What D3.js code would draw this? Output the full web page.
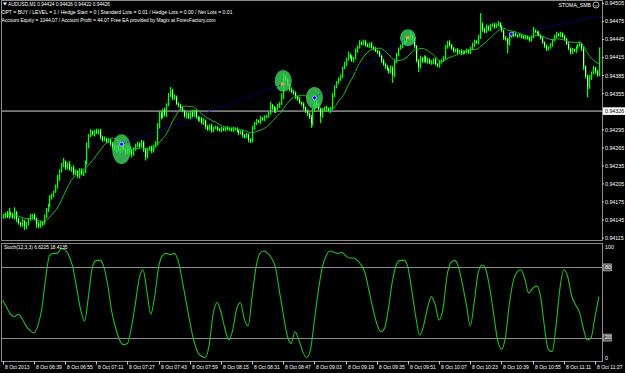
<!DOCTYPE html>
<html>
<head>
<meta charset="utf-8">
<script src="https://cdn.jsdelivr.net/npm/d3@7"></script>
<style>
html, body { margin: 0; padding: 0; background: #000; }
svg text { font-family: "Liberation Sans", Arial, sans-serif; }
</style>
</head>
<body>
<svg id="chart" width="625" height="373"></svg>
<script>
// AUDUSD M1, closes in points above 0.94000 (1 point = 0.00001), one per minute from 06:23
var closesPts = [
  152,156,150,157,154,149,158,146,140,137, 143,134,139,146,150,153,147,138,135,141,
  140,150,162,170,181,186,192,200,214,226, 236,242,232,238,229,232,222,226,218,228,
  222,225,240,268,285,292,288,292,290,294, 283,278,280,276,278,272,266,262,268,260,
  264,270,262,258,265,259,255,262,270,272, 268,274,262,250,262,266,260,268,272,300,
  322,316,328,320,336,352,360,348,350,338, 336,330,326,318,322,315,324,318,326,316,
  312,314,306,310,300,296,302,294,298,299, 296,294,297,295,298,296,297,294,297,296,
  293,290,292,286,283,287,278,276,298,306, 310,308,314,312,316,318,322,336,332,326,
  330,334,338,350,382,378,370,362,358,356, 350,346,340,338,332,326,322,316,306,328,
  342,336,330,318,328,332,330,326,330,352, 366,374,378,384,398,404,412,420,416,410,
  414,426,432,440,438,442,436,434,438,432, 430,426,424,418,410,404,400,396,392,398,
  386,408,420,430,434,438,442,446,448,452, 446,434,410,400,414,410,416,408,412,406,
  408,412,404,402,408,410,414,432,440,436, 430,426,428,424,426,422,425,424,427,424,
  430,436,442,440,448,470,462,458,466,462, 468,470,466,470,472,466,460,448,446,438,
  450,452,455,452,451,452,450,448,450,447, 444,450,460,458,456,452,448,440,434,430,
  432,436,444,450,454,452,455,450,446,438, 430,424,428,426,432,436,438,430,400,384,
  366,382,390,398,392,386,420
];
var firstOpenPts = 150;
// upper and lower shadows beyond the body, in points
var wickUp = [
  3,2,4,8,2,3,8,2,3,2, 4,2,3,2,5,2,3,2,4,3, 2,4,3,2,5,3,2,4,6,3, 4,6,2,3,5,2,4,3,2,3,
  3,2,4,6,3,4,2,3,5,2, 3,2,4,2,3,2,3,4,2,3, 2,3,4,2,3,2,4,3,2,3, 2,4,3,2,3,2,3,2,4,6,
  4,3,2,4,3,4,6,3,4,2, 3,2,4,2,3,2,3,4,2,3, 2,3,2,4,2,3,2,3,2,3, 2,2,3,2,2,3,2,2,3,2,
  3,2,2,3,2,3,2,3,4,2, 3,2,4,2,3,2,3,6,2,3, 2,4,3,6,7,4,3,2,4,3, 3,2,4,2,3,2,3,2,4,3,
  6,2,3,2,3,2,3,2,3,4, 3,2,4,3,2,4,3,5,2,3, 2,4,3,4,2,3,2,3,2,3, 2,3,2,3,2,3,2,3,2,4,
  3,4,3,2,3,2,3,2,4,5, 2,3,2,3,4,2,3,2,3,2, 3,2,3,2,3,2,3,4,3,4, 2,3,2,3,2,3,2,2,3,2,
  3,4,3,2,5,19,4,3,4,3, 3,2,3,2,4,2,3,2,3,2, 3,2,3,2,2,3,2,2,3,2, 3,2,6,3,2,3,2,3,2,3,
  2,3,2,3,4,2,3,2,3,2, 3,2,3,2,3,2,4,2,3,2, 3,4,2,3,2,3,12
];
var wickDn = [
  3,4,2,3,4,2,3,5,3,4, 3,6,4,3,2,4,3,6,4,3, 5,3,2,4,3,2,3,2,3,4, 2,3,4,3,2,4,3,2,3,4,
  3,4,2,3,4,2,3,4,2,3, 4,3,2,4,3,4,3,2,4,3, 4,3,2,5,3,4,6,3,2,4, 3,2,4,6,3,2,4,3,2,3,
  3,4,2,3,4,2,3,4,3,2, 4,3,2,3,4,2,3,4,2,3, 4,3,2,3,4,3,2,4,3,2, 3,2,3,2,3,2,3,2,3,2,
  3,4,3,4,3,2,4,3,2,3, 3,2,3,2,3,2,3,2,4,3, 3,2,3,2,4,3,2,3,2,3, 4,3,2,3,4,3,4,3,8,4,
  3,4,3,12,3,2,3,2,3,2, 3,2,3,2,3,2,3,2,3,2, 3,2,3,2,3,2,3,2,3,2, 3,2,3,2,4,3,4,3,4,3,
  13,3,2,3,2,3,2,3,2,3, 3,4,3,9,3,4,3,2,3,2, 3,4,2,3,4,3,2,3,2,3, 2,3,2,3,2,3,2,3,2,3,
  3,2,3,2,3,2,4,3,2,3, 3,2,3,2,3,2,3,4,3,16, 3,2,3,2,3,2,3,2,3,2, 3,2,3,2,3,2,3,2,3,4,
  3,2,3,2,3,2,3,2,3,2, 3,4,3,2,3,2,3,4,6,4, 17,3,4,3,4,3,2
];
// Stochastic(12,3,3) main line, every second bar
var stochMain = [
  52,46,40,38,40,36,30,26,24,30,44,70,90,92,92,96,95,90,80,62,44,34,55,80,86,
  86,80,64,42,28,18,14,15,28,48,70,78,60,40,55,80,90,92,91,92,86,70,52,34,18,
  8,4,3,14,40,50,42,28,18,26,44,50,36,30,55,80,92,94,92,88,80,60,40,22,15,
  25,18,8,3,10,35,60,80,90,94,93,92,93,90,88,88,86,82,75,60,45,32,25,28,45,
  68,82,86,86,80,60,38,22,30,45,55,48,35,45,72,84,86,80,65,48,30,50,75,82,78,
  62,40,18,10,20,48,68,76,78,70,58,62,64,56,30,10,8,30,62,78,72,56,48,42,28,
  18,20,38,55
];
var timeLabels = ["8 Oct 2013","8 Oct 06:39","8 Oct 06:55","8 Oct 07:11","8 Oct 07:27",
  "8 Oct 07:43","8 Oct 07:59","8 Oct 08:15","8 Oct 08:31","8 Oct 08:47","8 Oct 09:03",
  "8 Oct 09:19","8 Oct 09:35","8 Oct 09:51","8 Oct 10:07","8 Oct 10:23","8 Oct 10:39",
  "8 Oct 10:55","8 Oct 11:11","8 Oct 11:27"];
var priceTicks = [0.94505,0.94475,0.94445,0.94415,0.94385,0.94355,0.94325,
  0.94295,0.94265,0.94235,0.94205,0.94175,0.94145,0.94115];
var hedgeLevel = 0.94326;
// closed orders: open bar / price, close bar / price
var trades = [
  { o: 61, op: 0.94271, c: 144, cp: 0.94371 },
  { o: 160, op: 0.94348, c: 208, cp: 0.94448 },
  { o: 261, op: 0.94454, c: 330, cp: 0.94500 }
];
var headerLines = [
  "AUDUSD,M1  0.94424 0.94426 0.94422 0.94426",
  "OPT = BUY  /  LEVEL = 1  /  Hedge Start = 0  |  Standard Lots = 0.01  /  Hedge Lots = 0.00  /  Net Lots = 0.01",
  "Account Equity = 1044.07  /  Account Profit = 44.07     Free EA provided by Magix at ForexFactory.com"
];

var svg = d3.select("#chart");
svg.append("rect").attr("width", 625).attr("height", 373).attr("fill", "#000");

var left = 2, right = 602;
var x = d3.scaleLinear().domain([0, 304]).range([2.7, 595]);
var y = d3.scaleLinear().domain([0.94115, 0.94505]).range([238, 3.5]);
var ys = d3.scaleLinear().domain([0, 100]).range([361, 244]);
var px = function (p) { return 0.94 + p / 100000; };

// bars
var bars = closesPts.map(function (c, i) {
  var o = i ? closesPts[i - 1] : firstOpenPts;
  return { i: i, o: px(o), c: px(c),
    hi: px(Math.max(o, c) + wickUp[i]), lo: px(Math.min(o, c) - wickDn[i]) };
});

var main = svg.append("g").attr("clip-path", "url(#clipMain)");
svg.append("clipPath").attr("id", "clipMain")
  .append("rect").attr("x", left).attr("y", 1).attr("width", right - left).attr("height", 240);

// hedge level line
main.append("line")
  .attr("x1", left).attr("x2", right)
  .attr("y1", y(hedgeLevel)).attr("y2", y(hedgeLevel))
  .attr("stroke", "#7a7a7a").attr("stroke-width", 1.6);

main.append("g").selectAll("line")
  .data(bars).enter().append("line")
  .attr("x1", function (d) { return Math.round(x(d.i)) + 0.6; })
  .attr("x2", function (d) { return Math.round(x(d.i)) + 0.6; })
  .attr("y1", function (d) { return y(d.hi); })
  .attr("y2", function (d) { return y(d.lo); })
  .attr("stroke", "#00ff00").attr("stroke-width", 1.3);

main.append("g").selectAll("rect")
  .data(bars.filter(function (d) { return d.c < d.o; })).enter().append("rect")
  .attr("x", function (d) { return Math.round(x(d.i)) + 0.1; })
  .attr("width", 1)
  .attr("y", function (d) { return y(d.o); })
  .attr("height", function (d) { return Math.max(1, y(d.c) - y(d.o)); })
  .attr("fill", "#c4ffb8");

// moving average of closes (14)
var ma = bars.map(function (d, i) {
  var from = Math.max(0, i - 13);
  return { i: i, v: d3.mean(bars.slice(from, i + 1), function (b) { return b.c; }) };
});
main.append("path").datum(ma)
  .attr("fill", "none").attr("stroke", "#1fbf1f").attr("stroke-width", 1)
  .attr("d", d3.line().curve(d3.curveMonotoneX)
    .x(function (d) { return x(d.i); }).y(function (d) { return y(d.v); }));

// highlighted order points
var marks = [
  { i: trades[0].o, p: trades[0].op, rx: 9.5, ry: 15 },
  { i: trades[0].c, p: trades[0].cp + 0.00005, rx: 8.5, ry: 11 },
  { i: trades[1].o, p: trades[1].op, rx: 8.5, ry: 11 },
  { i: trades[1].c, p: trades[1].cp, rx: 8, ry: 8.5 }
];
main.append("g").selectAll("ellipse")
  .data(marks).enter().append("ellipse")
  .attr("cx", function (d) { return x(d.i); })
  .attr("cy", function (d) { return y(d.p) + (d.ry > 12 ? 5 : 0); })
  .attr("rx", function (d) { return d.rx; })
  .attr("ry", function (d) { return d.ry; })
  .attr("fill", "#3ccf5a").attr("fill-opacity", 0.82);

// order lines
main.append("g").selectAll("line")
  .data(trades).enter().append("line")
  .attr("x1", function (d) { return x(d.o); })
  .attr("y1", function (d) { return y(d.op); })
  .attr("x2", function (d) { return x(d.c); })
  .attr("y2", function (d) { return y(d.cp); })
  .attr("stroke", "#0000ff").attr("stroke-width", 1)
  .attr("stroke-dasharray", "1.2,1.8");

main.append("g").selectAll("circle")
  .data(trades).enter().append("circle")
  .attr("cx", function (d) { return x(d.o); })
  .attr("cy", function (d) { return y(d.op); })
  .attr("r", 2).attr("fill", "#1010ff").attr("stroke", "#d0d8ff").attr("stroke-width", 0.7);

main.append("g").selectAll("path")
  .data(trades.slice(0, 2)).enter().append("path")
  .attr("transform", function (d) { return "translate(" + x(d.c) + "," + y(d.cp) + ")"; })
  .attr("d", "M-2,-2L2,0L-2,2Z")
  .attr("fill", "#ffa030");

// stochastic window
var sub = svg.append("g");
[80, 20].forEach(function (lv) {
  sub.append("line").attr("x1", left).attr("x2", right)
    .attr("y1", Math.round(ys(lv)) + 0.5).attr("y2", Math.round(ys(lv)) + 0.5)
    .attr("stroke", "#8c8c8c").attr("stroke-width", 1);
});
sub.append("path").datum(stochMain)
  .attr("fill", "none").attr("stroke", "#1fbf1f").attr("stroke-width", 1.1)
  .attr("d", d3.line().curve(d3.curveMonotoneX)
    .x(function (d, k) { return x(k * 2); }).y(function (d) { return ys(d); }));

// frames
var frame = svg.append("g").attr("fill", "none").attr("stroke", "#8c8c8c").attr("stroke-width", 1);
frame.append("rect").attr("x", left - 0.5).attr("y", 0.5).attr("width", right - left + 1).attr("height", 240);
frame.append("rect").attr("x", left - 0.5).attr("y", 243.5).attr("width", right - left + 1).attr("height", 118);

// price axis
var pa = svg.append("g").attr("font-size", 5.3).attr("fill", "#fff");
priceTicks.forEach(function (t) {
  pa.append("line").attr("x1", right).attr("x2", right + 2)
    .attr("y1", y(t)).attr("y2", y(t)).attr("stroke", "#c8c8c8");
  pa.append("text").attr("x", right + 3).attr("y", y(t)).attr("dy", "0.35em")
    .text(d3.format(".5f")(t));
});
pa.append("rect").attr("x", right + 1).attr("y", y(hedgeLevel) - 3.8)
  .attr("width", 22).attr("height", 7.6).attr("fill", "#fff");
pa.append("text").attr("x", right + 3).attr("y", y(hedgeLevel)).attr("dy", "0.35em")
  .attr("fill", "#000").text(d3.format(".5f")(hedgeLevel));

// stochastic scale
[100, 80, 20, 0].forEach(function (lv) {
  var yy = lv === 100 ? ys(lv) + 3 : lv === 0 ? ys(lv) - 3 : ys(lv);
  if (lv === 80 || lv === 20) {
    pa.append("rect").attr("x", right + 1.5).attr("y", yy - 3.5)
      .attr("width", 8).attr("height", 7).attr("fill", "#5a5a5a").attr("stroke", "#cfcfcf").attr("stroke-width", 0.6);
  }
  pa.append("text").attr("x", right + 3).attr("y", yy).attr("dy", "0.35em").text(lv);
});

// time axis
var ta = svg.append("g").attr("font-size", 5).attr("fill", "#fff");
timeLabels.forEach(function (t, k) {
  var xx = Math.round(x(k * 16)) + 0.5;
  ta.append("line").attr("x1", xx).attr("x2", xx).attr("y1", 361).attr("y2", 364.5).attr("stroke", "#c8c8c8");
  ta.append("text").attr("x", xx + 1.5).attr("y", 367.5).attr("dy", "0.35em").text(t);
});

// header texts
var hd = svg.append("g").attr("font-size", 5.2).attr("fill", "#fff");
hd.append("path").attr("d", "M3,2.5L7,2.5L5,5.5Z").attr("fill", "#fff");
var hx = [8, 1.5, 1.5], hw = [102, 231, 214];
headerLines.forEach(function (t, k) {
  hd.append("text").attr("x", hx[k]).attr("y", 4 + k * 8.1).attr("dy", "0.35em")
    .attr("textLength", hw[k]).attr("lengthAdjust", "spacingAndGlyphs").text(t);
});
hd.append("text").attr("x", 591).attr("y", 5).attr("dy", "0.35em")
  .attr("text-anchor", "end").text("STOMA_SMB");
var smile = hd.append("g").attr("transform", "translate(596,5)");
smile.append("circle").attr("r", 3).attr("fill", "none").attr("stroke", "#fff").attr("stroke-width", 0.7);
smile.append("path").attr("d", "M-1.5,0.5Q0,2.2 1.5,0.5").attr("fill", "none").attr("stroke", "#fff").attr("stroke-width", 0.6);
hd.append("text").attr("x", 4).attr("y", 247.5).attr("dy", "0.35em")
  .attr("font-size", 4.8).text("Stoch(12,3,3) 6.6225 18.4135");
</script>
</body>
</html>
